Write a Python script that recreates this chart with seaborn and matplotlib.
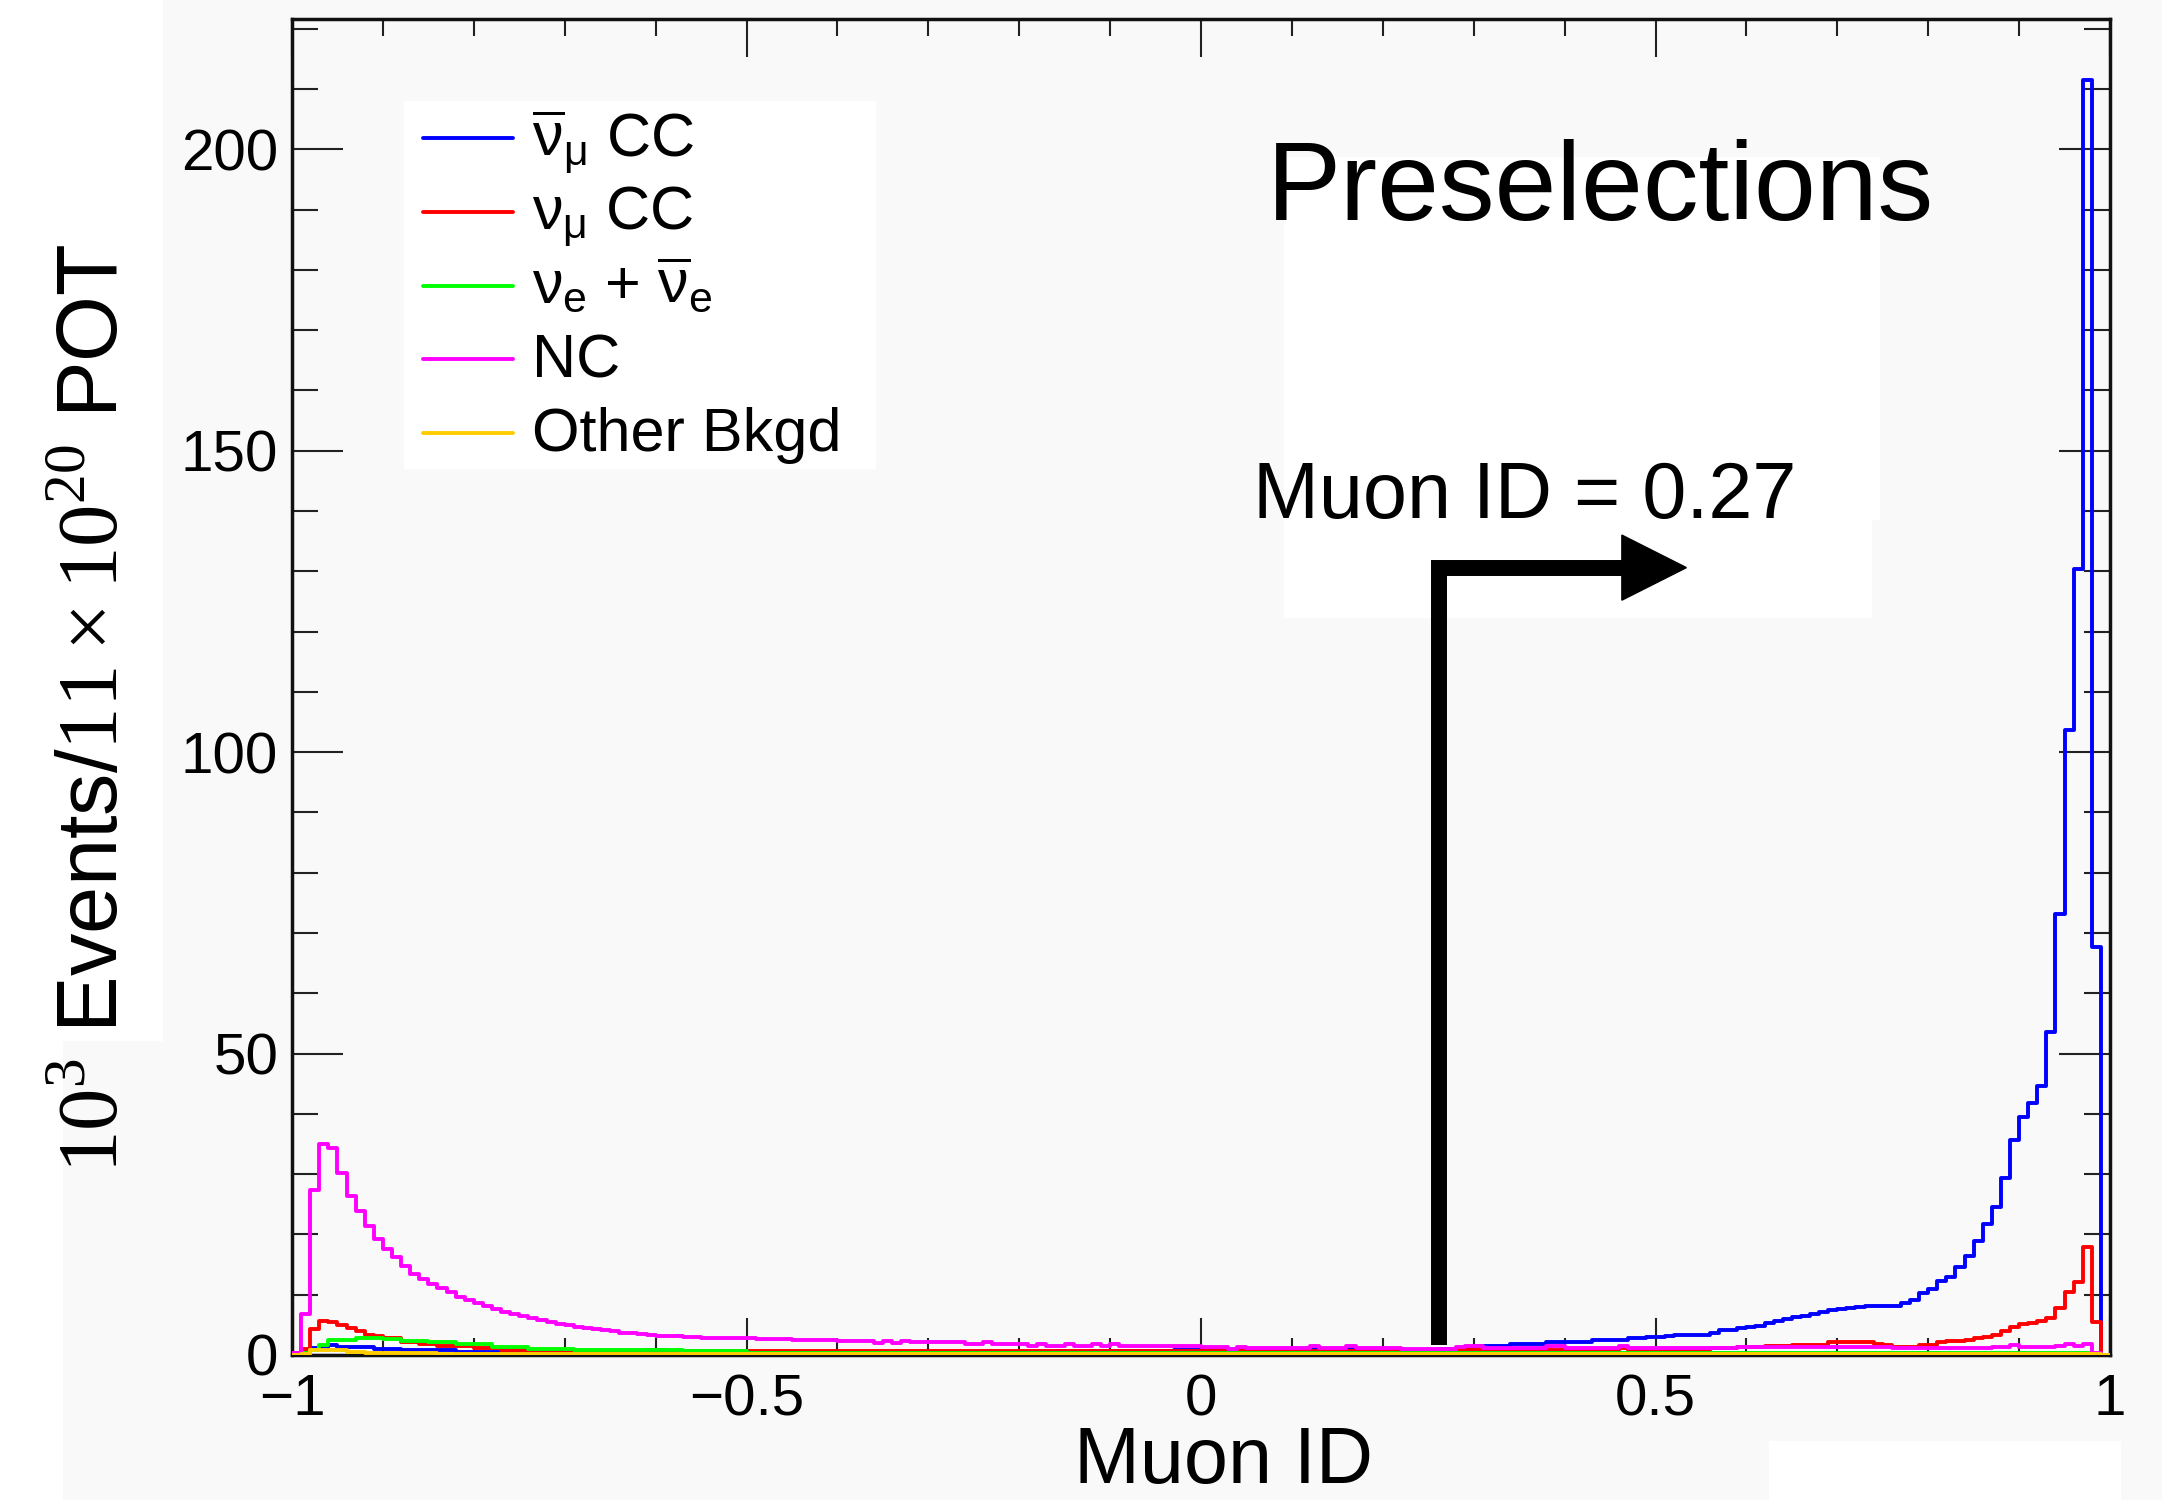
import numpy as np
import pandas as pd
import matplotlib
matplotlib.use("Agg")
import matplotlib.pyplot as plt
from matplotlib.patches import Rectangle
from matplotlib.lines import Line2D
import seaborn as sns

# ---------------- data (10^3 events per 0.01 bin of Muon ID) ----------------
bin_edges = [round(-1.0 + 0.01 * i, 4) for i in range(201)]

numubar_cc = [
    0.0, 0.3, 1.1, 1.1, 1.7, 1.3, 1.3, 1.3, 1.3, 1.0,
    1.0, 1.0, 0.8, 0.8, 0.8, 0.8, 0.8, 0.8, 0.5, 0.5,
    0.5, 0.5, 0.5, 0.5, 0.5, 0.5, 0.4, 0.4, 0.4, 0.4,
    0.4, 0.4, 0.4, 0.4, 0.4, 0.4, 0.4, 0.4, 0.4, 0.4,
    0.4, 0.4, 0.4, 0.4, 0.4, 0.4, 0.4, 0.4, 0.4, 0.4,
    0.4, 0.4, 0.4, 0.4, 0.4, 0.4, 0.4, 0.4, 0.4, 0.4,
    0.5, 0.5, 0.5, 0.5, 0.5, 0.5, 0.5, 0.5, 0.5, 0.5,
    0.5, 0.5, 0.5, 0.5, 0.5, 0.5, 0.6, 0.5, 0.5, 0.5,
    0.5, 0.5, 0.5, 0.5, 0.6, 0.5, 0.5, 0.5, 0.6, 0.6,
    0.6, 0.6, 0.6, 0.7, 0.7, 0.7, 0.7, 0.8, 0.8, 0.8,
    0.8, 0.8, 0.8, 0.9, 0.9, 0.9, 0.9, 0.9, 0.9, 0.9,
    0.9, 0.9, 1.0, 0.9, 0.9, 1.0, 1.0, 0.9, 0.9, 0.9,
    0.9, 0.9, 0.9, 0.9, 0.9, 0.9, 1.0, 1.0, 1.1, 1.2,
    1.5, 1.5, 1.5, 1.5, 1.8, 1.8, 1.8, 1.8, 2.1, 2.1,
    2.1, 2.1, 2.1, 2.5, 2.5, 2.5, 2.5, 2.8, 2.8, 3.0,
    3.05, 3.1, 3.4, 3.4, 3.4, 3.4, 3.7, 4.2, 4.2, 4.5,
    4.7, 4.8, 5.3, 5.6, 6.0, 6.3, 6.5, 6.8, 7.1, 7.4,
    7.7, 7.8, 7.9, 8.2, 8.2, 8.2, 8.2, 8.6, 9.1, 10.3,
    10.9, 12.3, 13.0, 14.6, 16.5, 18.9, 21.8, 24.6, 29.3, 35.7,
    39.4, 41.8, 44.6, 53.6, 73.1, 103.6, 130.3, 211.5, 67.7, 0.0,
]

numu_cc = [
    0.3, 1.0, 4.3, 5.6, 5.4, 5.0, 4.5, 4.0, 3.3, 3.1,
    2.8, 2.8, 2.2, 2.2, 1.8, 1.8, 1.5, 1.5, 1.5, 1.5,
    1.1, 1.1, 1.1, 0.8, 0.8, 0.8, 0.8, 0.8, 0.8, 0.8,
    0.8, 0.7, 0.7, 0.7, 0.7, 0.7, 0.7, 0.7, 0.7, 0.9,
    0.9, 0.7, 0.7, 0.7, 0.7, 0.7, 0.7, 0.6, 0.6, 0.6,
    0.6, 0.6, 0.6, 0.6, 0.6, 0.6, 0.6, 0.6, 0.6, 0.6,
    0.6, 0.6, 0.6, 0.6, 0.6, 0.6, 0.6, 0.6, 0.6, 0.6,
    0.6, 0.6, 0.6, 0.6, 0.6, 0.6, 0.6, 0.6, 0.6, 0.6,
    0.6, 0.6, 0.6, 0.6, 0.6, 0.6, 0.6, 0.6, 0.6, 0.6,
    0.6, 0.6, 0.6, 0.6, 0.6, 0.6, 0.6, 0.6, 0.6, 0.6,
    0.6, 0.6, 0.6, 0.6, 0.6, 0.6, 0.6, 0.6, 0.7, 0.7,
    0.7, 0.7, 0.7, 0.7, 0.7, 0.7, 0.7, 0.7, 0.7, 0.7,
    0.7, 0.7, 0.7, 0.7, 0.7, 0.7, 0.7, 0.7, 0.8, 0.8,
    0.8, 0.8, 0.8, 0.8, 0.8, 0.8, 0.8, 0.8, 0.9, 0.9,
    0.9, 0.9, 0.9, 0.9, 0.9, 0.9, 1.1, 0.9, 0.9, 0.9,
    0.9, 0.9, 0.9, 0.9, 0.9, 0.9, 1.1, 1.1, 1.1, 1.3,
    1.3, 1.3, 1.5, 1.5, 1.5, 1.7, 1.7, 1.7, 1.7, 2.1,
    2.1, 2.1, 2.1, 2.1, 1.8, 1.7, 1.4, 1.4, 1.4, 1.7,
    1.7, 2.1, 2.3, 2.3, 2.5, 2.8, 3.05, 3.3, 3.9, 4.7,
    5.1, 5.3, 5.6, 6.1, 7.8, 10.4, 12.1, 17.9, 5.4, 0.0,
]

nue_nuebar = [
    0.0, 0.3, 0.75, 1.6, 2.5, 2.5, 2.5, 2.8, 2.8, 2.8,
    2.6, 2.6, 2.4, 2.4, 2.4, 2.2, 2.2, 2.2, 1.9, 1.9,
    1.9, 1.9, 1.3, 1.3, 1.3, 1.3, 1.0, 1.0, 1.0, 1.0,
    1.0, 0.8, 0.8, 0.8, 0.8, 0.8, 0.8, 0.8, 0.8, 0.8,
    0.8, 0.8, 0.8, 0.7, 0.7, 0.7, 0.7, 0.7, 0.7, 0.6,
    0.4, 0.3, 0.3, 0.3, 0.3, 0.3, 0.3, 0.3, 0.3, 0.3,
    0.3, 0.3, 0.3, 0.3, 0.3, 0.3, 0.3, 0.3, 0.3, 0.3,
    0.3, 0.3, 0.3, 0.3, 0.3, 0.3, 0.3, 0.3, 0.3, 0.3,
    0.3, 0.3, 0.3, 0.3, 0.3, 0.3, 0.3, 0.3, 0.3, 0.3,
    0.3, 0.3, 0.3, 0.3, 0.3, 0.3, 0.3, 0.3, 0.3, 0.3,
    0.3, 0.3, 0.3, 0.3, 0.3, 0.3, 0.3, 0.3, 0.3, 0.3,
    0.3, 0.3, 0.3, 0.3, 0.3, 0.3, 0.3, 0.3, 0.3, 0.3,
    0.3, 0.3, 0.3, 0.3, 0.3, 0.3, 0.3, 0.3, 0.3, 0.3,
    0.3, 0.3, 0.3, 0.3, 0.3, 0.3, 0.3, 0.3, 0.3, 0.3,
    0.3, 0.3, 0.3, 0.3, 0.3, 0.3, 0.3, 0.3, 0.3, 0.3,
    0.3, 0.3, 0.3, 0.3, 0.3, 0.3, 0.3, 0.3, 0.3, 0.3,
    0.3, 0.3, 0.3, 0.3, 0.3, 0.3, 0.3, 0.3, 0.3, 0.3,
    0.3, 0.3, 0.3, 0.3, 0.3, 0.3, 0.3, 0.3, 0.3, 0.3,
    0.3, 0.3, 0.3, 0.3, 0.3, 0.3, 0.3, 0.3, 0.3, 0.3,
    0.3, 0.3, 0.3, 0.3, 0.3, 0.3, 0.3, 0.3, 0.2, 0.0,
]

nc = [
    0.3, 6.8, 27.4, 35.0, 34.3, 30.2, 26.4, 23.9, 21.4, 19.3,
    17.5, 16.2, 14.7, 13.4, 12.6, 11.8, 11.1, 10.4, 9.6, 9.2,
    8.6, 8.2, 7.6, 7.2, 6.8, 6.5, 6.2, 5.8, 5.5, 5.2,
    4.9, 4.7, 4.4, 4.3, 4.1, 3.9, 3.7, 3.6, 3.5, 3.3,
    3.2, 3.1, 3.1, 3.0, 3.0, 2.9, 2.9, 2.9, 2.9, 2.9,
    2.9, 2.7, 2.7, 2.7, 2.7, 2.5, 2.5, 2.5, 2.5, 2.5,
    2.4, 2.4, 2.4, 2.4, 2.0, 2.3, 2.0, 2.3, 2.1, 2.1,
    2.1, 2.1, 2.1, 2.1, 1.8, 1.8, 2.1, 1.8, 1.8, 1.8,
    1.8, 1.5, 1.8, 1.5, 1.5, 1.8, 1.5, 1.5, 1.8, 1.5,
    1.8, 1.45, 1.45, 1.45, 1.45, 1.45, 1.45, 1.45, 1.45, 1.45,
    1.4, 1.4, 1.4, 1.0, 1.4, 1.1, 1.1, 1.1, 1.1, 1.1,
    1.1, 1.1, 1.5, 1.2, 1.2, 1.2, 1.5, 1.2, 1.2, 1.2,
    1.2, 1.2, 1.0, 1.0, 1.0, 1.0, 1.0, 1.0, 1.3, 1.5,
    1.5, 1.2, 1.2, 1.2, 1.2, 1.2, 1.2, 1.2, 1.5, 1.5,
    1.2, 1.2, 1.2, 1.2, 1.2, 1.2, 1.5, 1.2, 1.2, 1.2,
    1.1, 1.1, 1.1, 1.1, 1.1, 1.1, 1.2, 1.2, 1.2, 1.3,
    1.3, 1.3, 1.3, 1.3, 1.3, 1.3, 1.3, 1.3, 1.3, 1.3,
    1.3, 1.3, 1.3, 1.3, 1.3, 1.3, 1.1, 1.1, 1.1, 1.1,
    1.1, 1.1, 1.1, 1.1, 1.1, 1.1, 1.1, 1.4, 1.4, 1.6,
    1.3, 1.3, 1.3, 1.3, 1.5, 1.8, 1.5, 1.8, 0.3, 0.0,
]

other_bkgd = [
    0.0, 0.2, 0.9, 0.9, 0.9, 0.8, 0.5, 0.5, 0.3, 0.3,
    0.3, 0.3, 0.3, 0.3, 0.3, 0.3, 0.2, 0.2, 0.2, 0.2,
    0.2, 0.2, 0.2, 0.2, 0.2, 0.2, 0.2, 0.2, 0.2, 0.2,
    0.2, 0.2, 0.2, 0.2, 0.2, 0.2, 0.2, 0.2, 0.2, 0.2,
    0.2, 0.2, 0.2, 0.2, 0.2, 0.2, 0.2, 0.2, 0.2, 0.2,
    0.2, 0.2, 0.2, 0.2, 0.2, 0.2, 0.2, 0.2, 0.2, 0.2,
    0.2, 0.2, 0.2, 0.2, 0.2, 0.2, 0.2, 0.2, 0.2, 0.2,
    0.2, 0.2, 0.2, 0.2, 0.2, 0.2, 0.2, 0.2, 0.2, 0.2,
    0.2, 0.2, 0.2, 0.2, 0.2, 0.2, 0.2, 0.2, 0.2, 0.2,
    0.2, 0.2, 0.2, 0.2, 0.2, 0.2, 0.2, 0.2, 0.2, 0.2,
    0.2, 0.2, 0.2, 0.2, 0.2, 0.2, 0.2, 0.2, 0.2, 0.2,
    0.2, 0.2, 0.2, 0.2, 0.2, 0.2, 0.2, 0.2, 0.2, 0.2,
    0.2, 0.2, 0.2, 0.2, 0.2, 0.2, 0.2, 0.2, 0.2, 0.2,
    0.2, 0.2, 0.2, 0.2, 0.2, 0.2, 0.2, 0.2, 0.2, 0.2,
    0.2, 0.2, 0.2, 0.2, 0.2, 0.2, 0.2, 0.2, 0.2, 0.2,
    0.2, 0.2, 0.2, 0.2, 0.2, 0.2, 0.2, 0.2, 0.2, 0.2,
    0.2, 0.2, 0.2, 0.2, 0.2, 0.2, 0.2, 0.2, 0.2, 0.2,
    0.2, 0.2, 0.2, 0.2, 0.2, 0.2, 0.2, 0.2, 0.2, 0.2,
    0.2, 0.2, 0.2, 0.2, 0.2, 0.2, 0.2, 0.2, 0.2, 0.2,
    0.2, 0.2, 0.2, 0.2, 0.2, 0.2, 0.2, 0.2, 0.1, 0.0,
]

series_labels = [r"$\overline{\nu}_{\mu}$ CC", r"$\nu_{\mu}$ CC",
                 r"$\nu_{e}$ + $\overline{\nu}_{e}$", "NC", "Other Bkgd"]
series_values = [numubar_cc, numu_cc, nue_nuebar, nc, other_bkgd]
series_colors = ["#0000ff", "#ff0000", "#00ff00", "#ff00ff", "#ffcc00"]

cut_value = 0.262
cut_label = "Muon ID = 0.27"
x_ticks = [-1, -0.5, 0, 0.5, 1]
x_ticklabels = ["\u22121", "\u22120.5", "0", "0.5", "1"]
y_ticks = [0, 50, 100, 150, 200]

# ---------------- style ----------------
sns.set_style("ticks")
BG = "#f9f9f9"
plt.rcParams["font.family"] = ["Liberation Sans", "DejaVu Sans"]
plt.rcParams["mathtext.fontset"] = "custom"
plt.rcParams["mathtext.rm"] = "Liberation Serif"
plt.rcParams["mathtext.it"] = "Liberation Sans"
plt.rcParams["mathtext.bf"] = "Liberation Sans:bold"
plt.rcParams["mathtext.fallback"] = "stix"
plt.rcParams["text.color"] = "black"
plt.rcParams["axes.labelcolor"] = "black"
plt.rcParams["xtick.color"] = "black"
plt.rcParams["ytick.color"] = "black"

W, H = 2162, 1500
fig = plt.figure(figsize=(W / 100, H / 100), dpi=100, facecolor=BG)

def fx(x):
    return x / W

def fy(y):
    return 1 - y / H

# white screenshot patches behind everything
for (x0, y0, x1, y1) in [(0, 0, 163, 1041), (0, 1041, 63, 1500),
                         (404, 101, 876, 469),
                         (1284, 157, 1880, 520), (1284, 520, 1872, 618),
                         (1769, 1441, 2121, 1500)]:
    fig.patches.append(Rectangle((fx(x0), fy(y1)), fx(x1) - fx(x0), fy(y0) - fy(y1),
                                 transform=fig.transFigure, facecolor="white",
                                 edgecolor="none", zorder=-5))

ax = fig.add_axes([fx(292), fy(1355), fx(2110) - fx(292), fy(19) - fy(1355)])
ax.set_facecolor("none")

centers = [e + 0.005 for e in bin_edges[:-1]]
zorders = [3, 4, 5, 6, 7]
for vals, col, z in zip(series_values, series_colors, zorders):
    df = pd.DataFrame({"muon_id": centers, "events": vals})
    sns.histplot(data=df, x="muon_id", weights="events", bins=bin_edges,
                 element="step", fill=False, color=col, linewidth=2.8,
                 ax=ax, zorder=z)

ax.set_xlim(-1, 1)
ax.set_ylim(0, 221.6)
ax.set_xlabel("")
ax.set_ylabel("")

ax.set_xticks(x_ticks)
ax.set_xticklabels(x_ticklabels)
ax.set_xticks(np.round(np.arange(-1, 1.0001, 0.1), 2), minor=True)
ax.set_yticks(y_ticks)
ax.set_yticks(np.arange(0, 221, 10), minor=True)

ax.tick_params(axis="both", which="both", direction="in", top=True, right=True,
               width=1.5, color="#222222", labelsize=42, labelcolor="black")
ax.tick_params(axis="x", which="major", length=27, pad=13)
ax.tick_params(axis="x", which="minor", length=12)
ax.tick_params(axis="y", which="major", length=37, pad=10)
ax.tick_params(axis="y", which="minor", length=19)
for sp in ax.spines.values():
    sp.set_linewidth(2.5)
    sp.set_color("#111111")

# cut arrow
ax.plot([cut_value, cut_value, 0.463], [1.7, 130.6, 130.6], color="black", lw=11.5,
        solid_joinstyle="miter", solid_capstyle="butt", zorder=8)
ax.fill([0.463, 0.534, 0.463], [136.0, 130.6, 125.2], color="black", zorder=8)

# legend (ROOT-style fixed row pitch)
for i, (lab, col) in enumerate(zip(series_labels, series_colors)):
    yl = 138 + 73.8 * i
    fig.add_artist(Line2D([fx(423), fx(513)], [fy(yl), fy(yl)],
                          transform=fig.transFigure, color=col, lw=2.8))
    fig.text(fx(532), fy(yl + 18), lab, fontsize=44, ha="left", va="baseline")

# texts
fig.text(fx(1600), fy(220), "Preselections", fontsize=80, ha="center", va="baseline")
fig.text(fx(1525), fy(518), cut_label, fontsize=57, ha="center", va="baseline")
fig.text(fx(1223), fy(1483), "Muon ID", fontsize=57, ha="center", va="baseline")
fig.text(fx(118), fy(708), r"$10^{3}$ Events/$11\times10^{20}$ POT", fontsize=61,
         rotation=90, rotation_mode="anchor", ha="center", va="baseline")

fig.savefig("out.png", dpi=100, facecolor=BG)
